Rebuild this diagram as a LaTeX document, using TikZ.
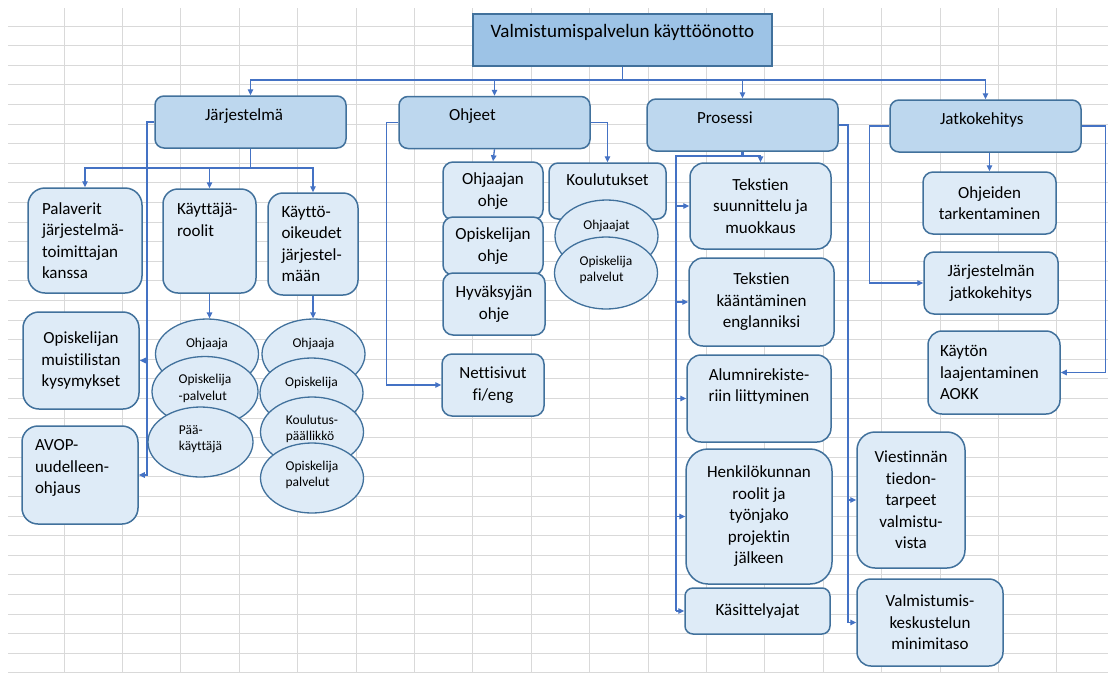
\documentclass[tikz,border=0pt]{standalone}
\usepackage{fontspec}
\setmainfont{Carlito}[Ligatures=NoCommon]
\usepackage{tikz}
\usetikzlibrary{
    positioning,
    arrows.meta,
    shapes.geometric
}
\definecolor{gridGray}{RGB}{217, 217, 217}
\definecolor{connBlue}{RGB}{68, 114, 196}
\definecolor{boxLine}{RGB}{65, 113, 156}
\definecolor{titleFill}{RGB}{157, 195, 230}
\definecolor{mainFill}{RGB}{189, 215, 238}
\definecolor{subFill}{RGB}{222, 235, 247}

\tikzset{
    gridline/.style={draw=gridGray, line width=0.9pt},
    conn/.style={draw=connBlue, line width=1.3pt},
    titlebox/.style={rectangle, draw=boxLine, line width=1.5pt, fill=titleFill,
        inner sep=0pt, font=\fontsize{19}{23}\selectfont},
    mainbox/.style={rectangle, rounded corners=9pt, draw=boxLine, line width=1.5pt,
        fill=mainFill, inner xsep=50pt, inner ysep=0pt, text width=91pt, align=left,
        text height=24pt, text depth=28pt, font=\fontsize{17}{21.5}\selectfont},
    subbox/.style={rectangle, draw=boxLine, line width=1.5pt, fill=subFill,
        inner sep=0pt, align=center, font=\fontsize{17}{21.5}\selectfont},
    oval/.style={ellipse, draw=boxLine, line width=1.3pt, fill=subFill, inner sep=0pt,
        minimum width=103pt, minimum height=70pt, align=left,
        font=\fontsize{13.5}{16.5}\selectfont},
    oneline/.style={text height=13pt, text depth=27pt},
    twoline/.style={text height=28pt, text depth=11pt}
}

\begin{document}
\begin{tikzpicture}[x=1pt, y=-1pt, >={Triangle[length=6pt, width=5.5pt]}]
    \useasboundingbox[fill=white] (0,0) rectangle (1108,673);

    % spreadsheet grid behind the chart
    \foreach \gx in {0,...,17}
        \draw[gridline] (64+58.4*\gx, 8) -- (64+58.4*\gx, 673);
    \foreach \gy in {0,...,33}
        \draw[gridline] (8, 26+19.6*\gy) -- (1108, 26+19.6*\gy);

    \node[titlebox, minimum width=299pt, text height=23.5pt, text depth=28.5pt] (title) at (622.5, 40) {Valmistumispalvelun käyttöönotto};

    \node[mainbox] (jarj) at (250.5, 122) {Järjestelmä};
    \node[mainbox] (ohj) at (494.5, 122.5) {Ohjeet};
    \node[mainbox] (pros) at (742.5, 125) {Prosessi};
    \node[mainbox] (jatk) at (985.5, 126) {Jatkokehitys};

    \coordinate (bus) at (0, 80);
    \draw[conn] (title.south) -- (title.south |- bus);
    \foreach \n in {jarj, ohj, pros, jatk}
        \draw[conn, ->] (title.south |- bus) -| (\n.north);

    % Järjestelmä
    \node[subbox, align=left, text width=86pt, inner xsep=14pt, minimum height=105pt, rounded corners=17pt] (pal) at (85, 240.5) {Palaverit\\järjestelmä-\\toimittajan\\kanssa};
    \node[subbox, align=left, text width=65pt, inner xsep=14pt, text height=25.5pt, text depth=78.5pt, rounded corners=15pt] (kroolit) at (209.5, 241) {Käyttäjä-\\roolit};
    \node[subbox, align=left, text width=63pt, inner xsep=13.5pt, minimum height=102pt, rounded corners=15pt] (koik) at (313, 244) {Käyttö-\\oikeudet\\järjestel-\\mään};
    \node[subbox, minimum width=116pt, minimum height=97pt, rounded corners=16pt] (muisti) at (81, 360.5) {Opiskelijan\\muistilistan\\kysymykset};
    \node[subbox, align=left, text width=90pt, inner xsep=13pt, text height=24.5pt, text depth=73.5pt, rounded corners=16pt] (avop) at (80, 475) {AVOP-\\uudelleen-\\ohjaus};

    \coordinate (jbus) at (0, 168);
    \draw[conn] (jarj.south) -- (jarj.south |- jbus);
    \foreach \n in {pal, kroolit, koik}
        \draw[conn, ->] (jarj.south |- jbus) -| (\n.north);
    \coordinate (jleft) at (147, 0);
    \draw[conn, ->] (jarj.west) -| (jleft |- avop.east) -- (avop.east);
    \draw[conn, ->] (jleft |- muisti.east) -- (muisti.east);

    \node[oval, oneline] (eA1) at (207, 354) {Ohjaaja};
    \node[oval, twoline, minimum width=106pt] (eA2) at (205, 391.5) {Opiskelija\\-palvelut};
    \node[oval, twoline, minimum width=105pt] (eA3) at (200.5, 442) {Pää-\\käyttäjä};
    \draw[conn, ->] (kroolit.south) -- (kroolit.south |- eA1.north);

    \node[oval, oneline] (eB1) at (313.5, 354) {Ohjaaja};
    \node[oval, oneline] (eB2) at (311.5, 393) {Opiskelija};
    \node[oval, twoline] (eB3) at (312, 432) {Koulutus-\\päällikkö};
    \node[oval, twoline] (eB4) at (312, 478) {Opiskelija\\palvelut};
    \draw[conn, ->] (koik.south) -- (koik.south |- eB1.north);

    % Ohjeet
    \node[subbox, minimum width=100pt, minimum height=58pt, rounded corners=10pt] (ohjohje) at (493, 191) {Ohjaajan\\ohje};
    \node[subbox, minimum width=100pt, minimum height=58pt, rounded corners=10pt] (opohje) at (493, 246) {Opiskelijan\\ohje};
    \node[subbox, minimum width=102pt, minimum height=62pt, rounded corners=10pt] (hyvohje) at (494, 304) {Hyväksyjän\\ohje};
    \node[subbox, minimum width=102pt, minimum height=62pt, rounded corners=10pt] (netti) at (493, 385) {Nettisivut\\fi/eng};
    \node[subbox, minimum width=117pt, text height=22.5pt, text depth=33.5pt, rounded corners=9pt] (koul) at (607.5, 191) {Koulutukset};
    \node[oval, oneline, minimum height=72pt] (eC1) at (606.5, 236) {Ohjaajat};
    \node[oval, twoline, minimum height=72pt] (eC2) at (606, 273) {Opiskelija\\palvelut};

    \draw[conn, ->] (ohj.south) -- (ohjohje.north);
    \draw[conn, ->] (ohj.west) -- ++(-12pt, 0) |- (netti.west);
    \draw[conn, ->] (ohj.east) -| (koul.north);

    % Prosessi
    \node[subbox, minimum width=141pt, minimum height=86pt, rounded corners=14pt] (suun) at (760.5, 206) {Tekstien\\suunnittelu ja\\muokkaus};
    \node[subbox, minimum width=145pt, minimum height=88pt, rounded corners=14pt] (kaant) at (761.5, 302) {Tekstien\\kääntäminen\\englanniksi};
    \node[subbox, minimum width=144pt, text height=46.5pt, text depth=40.5pt, rounded corners=14pt] (alumni) at (759, 398.5) {Alumnirekiste-\\riin liittyminen};
    \node[subbox, minimum width=146pt, minimum height=135pt, rounded corners=22pt] (henk) at (759, 516.5) {Henkilökunnan\\roolit ja\\työnjako\\projektin\\jälkeen};
    \node[subbox, minimum width=145pt, minimum height=46pt, rounded corners=8pt] (kasit) at (757.5, 611) {Käsittelyajat};
    \node[subbox, minimum width=108pt, minimum height=136pt, rounded corners=18pt] (viest) at (911, 500) {Viestinnän\\tiedon-\\tarpeet\\valmistu-\\vista};
    \node[subbox, minimum width=146pt, minimum height=87pt, rounded corners=14pt] (valmk) at (930, 622.5) {Valmistumis-\\keskustelun\\minimitaso};

    \coordinate (pbus) at (676, 156);
    \draw[conn, line width=2.2pt] (pros.south) |- (pbus) -- (pbus |- kasit.west);
    \draw[conn, ->] (pros.south |- pbus) -| (suun.north);
    \foreach \n in {suun, kaant, alumni, henk, kasit}
        \draw[conn, ->] (pbus |- \n.west) -- (\n.west);
    \coordinate (pright) at (848, 125);
    \draw[conn, line width=1.8pt] (pros.east) -- (pright) -- (pright |- valmk.west);
    \draw[conn, ->] (pright |- viest.west) -- (viest.west);
    \draw[conn, ->] (pright |- valmk.west) -- (valmk.west);

    % Jatkokehitys
    \node[subbox, minimum width=133pt, minimum height=62pt, rounded corners=10pt] (ohjtark) at (989.5, 203) {Ohjeiden\\tarkentaminen};
    \node[subbox, minimum width=134pt, minimum height=62pt, rounded corners=10pt] (jjatko) at (991, 283) {Järjestelmän\\jatkokehitys};
    \node[subbox, align=left, text width=108pt, inner xsep=12pt, minimum height=83pt, rounded corners=14pt] (kaytto) at (994, 372.5) {Käytön\\laajentaminen\\AOKK};

    \draw[conn, <-] (ohjtark.north) -- (ohjtark.north |- jatk.south);
    \draw[conn, ->] (jatk.west) -- ++(-20pt, 0) |- (jjatko.west);
    \draw[conn, ->] (jatk.east) -- ++(24pt, 0) |- (kaytto.east);
\end{tikzpicture}
\end{document}
